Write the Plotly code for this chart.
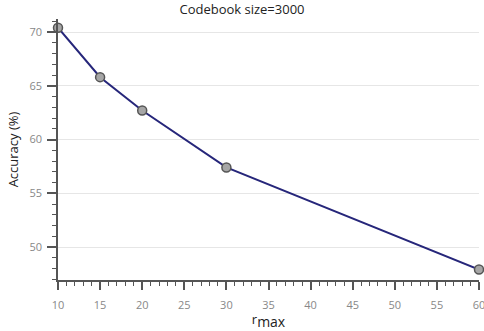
import plotly.graph_objects as go

r_max = [10, 15, 20, 30, 60]
accuracy = [70.4, 65.8, 62.7, 57.4, 47.9]

fig = go.Figure()
fig.add_trace(go.Scatter(
    x=r_max, y=accuracy, mode="lines+markers",
    line=dict(color="#26267a", width=2),
    marker=dict(size=9, color="#a6a6a6", line=dict(color="#555555", width=1.5)),
    cliponaxis=False, showlegend=False,
))

font = "Open Sans, sans-serif"
fig.update_layout(
    width=484, height=331,
    margin=dict(l=58, r=5, t=19, b=51),
    paper_bgcolor="white", plot_bgcolor="white",
    font=dict(family=font, color="#333333"),
    title=dict(text="Codebook size=3000", x=0.5, xanchor="center", y=0.985, yanchor="top",
               font=dict(size=13, color="#222222", family=font)),
    xaxis=dict(
        range=[10, 60], tick0=10, dtick=5, showgrid=False, zeroline=False,
        showline=True, linecolor="#555555", linewidth=1.5, automargin=False,
        ticks="outside", ticklen=8, tickcolor="#555555", tickwidth=1.5,
        tickfont=dict(size=11, color="#888888"), ticklabelstandoff=6,
        ticklabeloverflow="allow",
        minor=dict(dtick=1, ticks="outside", ticklen=4, tickcolor="#555555", tickwidth=1),
        title=dict(text="<span style='font-size:13px'>r</span><sub><span style='font-size:14px'>max</span></sub>",
                   font=dict(size=14, color="#222222"), standoff=6),
    ),
    yaxis=dict(
        range=[46.93, 71.21], tick0=50, dtick=5, showgrid=True, gridcolor="#e6e6e6", gridwidth=1,
        zeroline=False, showline=True, linecolor="#555555", linewidth=1.5, automargin=False,
        ticks="outside", ticklen=9, tickcolor="#555555", tickwidth=1.5,
        tickfont=dict(size=11, color="#888888"), ticklabelstandoff=3,
        minor=dict(dtick=1, ticks="outside", ticklen=4, tickcolor="#555555", tickwidth=1, showgrid=False),
        title=dict(text="Accuracy (%)", font=dict(size=13, color="#222222"), standoff=8),
    ),
)

fig.write_html("out.html")
